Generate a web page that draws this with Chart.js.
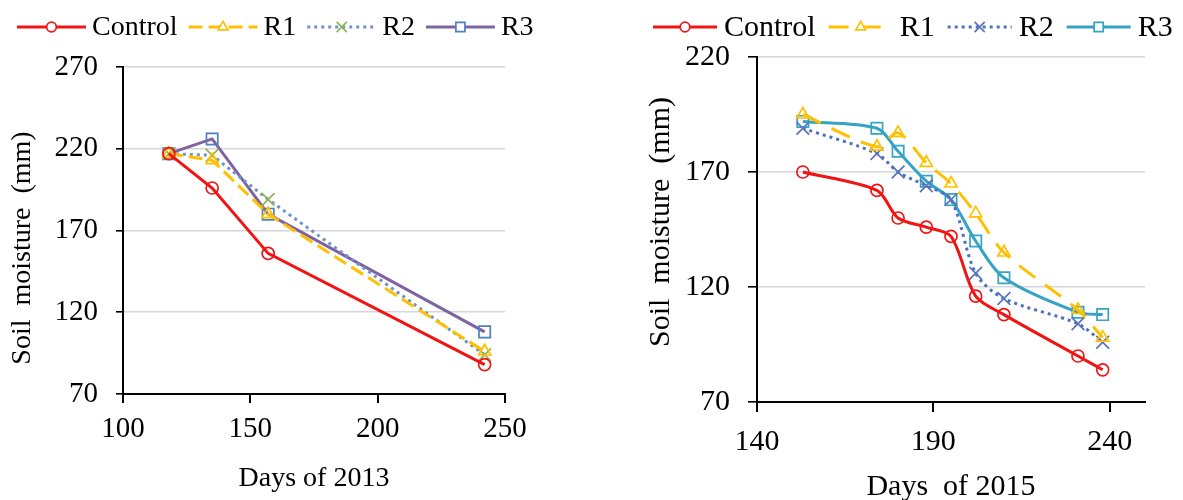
<!DOCTYPE html>
<html>
<head>
<meta charset="utf-8">
<script src="https://cdn.jsdelivr.net/npm/chart.js@4.4.1/dist/chart.umd.min.js"></script>
<style>
  body { margin: 0; background: #fff; }
  #chart2013 { position: absolute; left: 0; top: 0; }
  #chart2015 { position: absolute; left: 590px; top: 0; }
</style>
</head>
<body>
<canvas id="chart2013" width="590" height="500"></canvas>
<canvas id="chart2015" width="593" height="500"></canvas>
<script>
// --- data ---
const seriesNames = ['Control', 'R1', 'R2', 'R3'];

const days2013 = [118, 135, 157, 242];
const control2013 = [217, 196, 156, 88];
const r1_2013 = [217, 213, 180, 96];
const r2_2013 = [217, 216, 189, 94];
const r3_2013 = [217, 226, 180, 108];
const xTicks2013 = [100, 150, 200, 250];
const yTicks2013 = [70, 120, 170, 220, 270];

const days2015 = [153, 174, 180, 188, 195, 202, 210, 231, 238];
const control2015 = [170, 162, 150, 146, 142, 116, 108, 90, 84];
const r1_2015 = [195, 181, 187, 174, 165, 152, 135, 110, 98];
const r2_2015 = [189, 178, 170, 164, 158, 126, 115, 104, 96];
const r3_2015 = [192, 189, 179, 166, 158, 140, 124, 109, 108];
const xTicks2015 = [140, 190, 240];
const yTicks2015 = [70, 120, 170, 220];

const FONT = '"Liberation Serif", "Times New Roman", serif';

function pts(xs, ys) {
    return xs.map((x, i) => ({ x: x, y: ys[i] }));
}

function series(label, xs, ys, color, dash, pointStyle, pointColor, radius, tension) {
    return {
        label: label,
        data: pts(xs, ys),
        borderColor: color,
        borderWidth: 3,
        borderDash: dash,
        tension: tension,
        pointStyle: pointStyle,
        pointRadius: radius,
        pointBorderColor: pointColor,
        pointBackgroundColor: 'rgba(255,255,255,0)',
        pointBorderWidth: 1.7
    };
}

// legend drawn as Excel does it: a line sample with the marker in the middle
const lineLegend = {
    id: 'lineLegend',
    afterDraw(chart, args, opts) {
        const ctx = chart.ctx;
        ctx.save();
        ctx.font = opts.font;
        ctx.textBaseline = 'middle';
        let x = opts.x;
        chart.data.datasets.forEach(ds => {
            ctx.strokeStyle = ds.borderColor;
            ctx.lineWidth = ds.borderWidth;
            ctx.setLineDash(ds.borderDash || []);
            ctx.beginPath();
            ctx.moveTo(x, opts.y);
            ctx.lineTo(x + opts.line, opts.y);
            ctx.stroke();
            ctx.setLineDash([]);
            ctx.strokeStyle = ds.pointBorderColor;
            ctx.fillStyle = '#fff';
            ctx.lineWidth = ds.pointBorderWidth;
            Chart.helpers.drawPoint(ctx, {
                pointStyle: ds.pointStyle,
                radius: ds.pointRadius * opts.scale,
                rotation: 0,
                borderWidth: ds.pointBorderWidth
            }, x + opts.line / 2, opts.y);
            x += opts.line + opts.gap;
            ctx.fillStyle = '#000';
            ctx.fillText(ds.label, x, opts.y + 1);
            x += ctx.measureText(ds.label).width + opts.gap2;
        });
        ctx.restore();
    }
};

function axisX(cfg) {
    return {
        type: 'linear',
        min: cfg.min,
        max: cfg.max,
        afterBuildTicks: s => { s.ticks = cfg.ticks.map(v => ({ value: v })); },
        afterFit: s => { s.height = cfg.height; },
        ticks: { color: '#000', padding: cfg.tickPad, font: { family: FONT, size: cfg.tickSize } },
        grid: { drawOnChartArea: false, drawTicks: true, tickLength: cfg.tickLen, tickColor: '#000', lineWidth: 2 },
        border: { color: '#000', width: 2 },
        title: {
            display: true,
            text: cfg.title,
            color: '#000',
            font: { family: FONT, size: cfg.titleSize, lineHeight: cfg.titleLH },
            padding: { top: 0, bottom: cfg.titlePad }
        }
    };
}

function axisY(cfg) {
    return {
        type: 'linear',
        min: cfg.min,
        max: cfg.max,
        afterBuildTicks: s => { s.ticks = cfg.ticks.map(v => ({ value: v })); },
        afterFit: s => { s.width = cfg.width; },
        ticks: { color: '#000', padding: cfg.tickPad, font: { family: FONT, size: cfg.tickSize } },
        grid: { color: '#d6d6d6', lineWidth: 1.6, drawTicks: true, tickLength: cfg.tickLen, tickColor: '#000' },
        border: { color: '#000', width: 2 },
        title: {
            display: true,
            text: cfg.title,
            color: '#000',
            font: { family: FONT, size: cfg.titleSize },
            padding: { top: cfg.titlePad, bottom: 0 }
        }
    };
}

// Days of 2013
new Chart(document.getElementById('chart2013').getContext('2d'), {
    type: 'line',
    data: {
        datasets: [
            series(seriesNames[0], days2013, control2013, '#f01414', [], 'circle', '#f01414', 6, 0),
            series(seriesNames[1], days2013, r1_2013, '#ffc000', [14, 6], 'triangle', '#ffc000', 7, 0),
            series(seriesNames[2], days2013, r2_2013, '#6f93c9', [3, 4], 'crossRot', '#8fb458', 9, 0),
            series(seriesNames[3], days2013, r3_2013, '#7f63a1', [], 'rect', '#4f7fc0', 8, 0)
        ]
    },
    plugins: [lineLegend],
    options: {
        responsive: false,
        animation: false,
        layout: { padding: { left: 0, right: 85, top: 67, bottom: 0 } },
        scales: {
            x: axisX({ min: 100, max: 250, ticks: xTicks2013, height: 106, tickPad: 9, tickSize: 29,
                       tickLen: 9, title: 'Days of 2013', titleSize: 28, titleLH: 1.2, titlePad: 5 }),
            y: axisY({ min: 70, max: 270, ticks: yTicks2013, width: 123, tickPad: 18, tickSize: 29,
                       tickLen: 7, title: 'Soil  moisture  (mm)     ', titleSize: 28, titlePad: 6 })
        },
        plugins: {
            legend: { display: false },
            tooltip: { enabled: false },
            lineLegend: { x: 17, y: 27, line: 69, gap: 6, gap2: 11, scale: 0.8, font: '28px ' + FONT }
        }
    }
});

// Days of 2015
new Chart(document.getElementById('chart2015').getContext('2d'), {
    type: 'line',
    data: {
        datasets: [
            series(seriesNames[0], days2015, control2015, '#f01414', [], 'circle', '#f01414', 6, 0.3),
            series(seriesNames[1], days2015, r1_2015, '#ffc000', [20, 12], 'triangle', '#ffc000', 7, 0.3),
            series(seriesNames[2], days2015, r2_2015, '#4a72c0', [3, 4], 'crossRot', '#5a74bb', 9, 0.3),
            series(seriesNames[3], days2015, r3_2015, '#36a3c4', [], 'rect', '#36a3c4', 8, 0.3)
        ]
    },
    plugins: [lineLegend],
    options: {
        responsive: false,
        animation: false,
        layout: { padding: { left: 0, right: 38, top: 57, bottom: 0 } },
        scales: {
            x: axisX({ min: 140, max: 250, ticks: xTicks2015, height: 98, tickPad: 12, tickSize: 30,
                       tickLen: 10, title: 'Days  of 2015', titleSize: 30, titleLH: 0.8, titlePad: 1 }),
            y: axisY({ min: 70, max: 220, ticks: yTicks2015, width: 167, tickPad: 18, tickSize: 30,
                       tickLen: 9, title: '  Soil  moisture  (mm)', titleSize: 30, titlePad: 53 })
        },
        plugins: {
            legend: { display: false },
            tooltip: { enabled: false },
            lineLegend: { x: 63, y: 27, line: 64, gap: 7, gap2: 13, scale: 0.8, font: '30px ' + FONT }
        }
    }
});
</script>
</body>
</html>
